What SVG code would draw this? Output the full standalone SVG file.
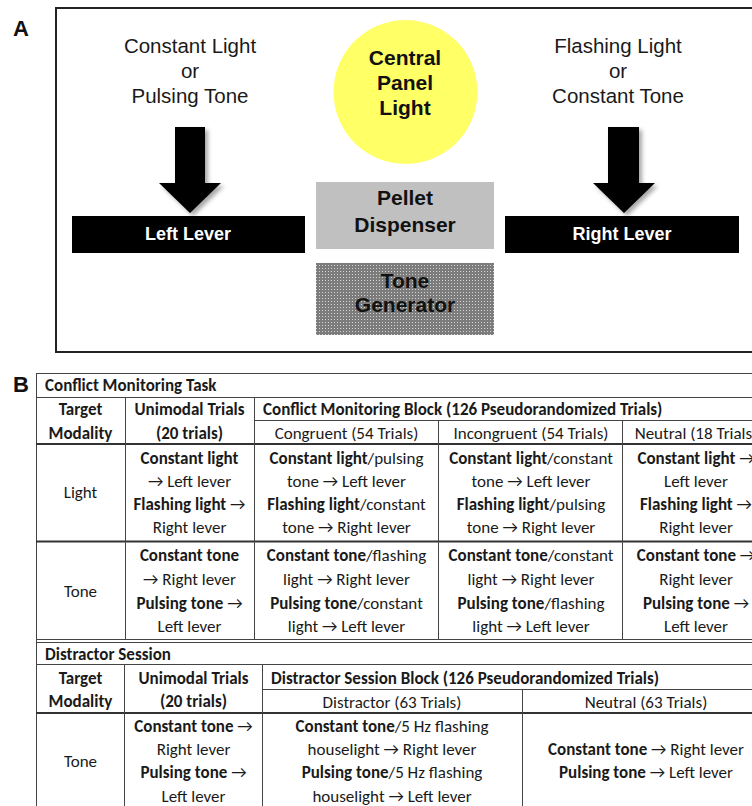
<svg xmlns="http://www.w3.org/2000/svg" width="752" height="806" viewBox="0 0 752 806">
<defs>
<pattern id="dots" width="3" height="3" patternUnits="userSpaceOnUse">
<rect width="3" height="3" fill="#7c7c7c"/>
<rect x="1" y="1" width="1" height="1" fill="#d4d4d4"/>
</pattern>
<filter id="shadow" x="-20%" y="-20%" width="150%" height="150%">
<feDropShadow dx="3" dy="3" stdDeviation="2" flood-color="#000" flood-opacity="0.35"/>
</filter>
</defs>
<style>
.lbl{font-family:"Liberation Sans",Arial,sans-serif;font-weight:bold;fill:#111}
.ar{font-family:"Liberation Sans",Arial,sans-serif;font-size:20.5px;fill:#1a1a1a;text-anchor:middle}
.bd{font-family:"Liberation Sans",Arial,sans-serif;font-size:21px;font-weight:bold;fill:#111;text-anchor:middle}
.lev{font-family:"Liberation Sans",Arial,sans-serif;font-size:18px;font-weight:bold;fill:#fff;text-anchor:middle}
.t{font-family:Carlito,Calibri,Lato,"Liberation Sans",sans-serif;font-size:17px;fill:#1a1a1a;text-anchor:middle}
.tl{font-family:Carlito,Calibri,Lato,"Liberation Sans",sans-serif;font-size:17px;fill:#1a1a1a;font-weight:bold}
.b{font-weight:bold}
.ln{stroke:#444;stroke-width:1;fill:none}
.thk{stroke:#333;stroke-width:2;fill:none}
</style>
<rect width="752" height="806" fill="#fff"/>

<!-- Panel A -->
<text class="lbl" x="13" y="36" font-size="22">A</text>
<rect id="frameA" x="56" y="8" width="730" height="344" fill="none" stroke="#222" stroke-width="2"/>

<g id="leftCue">
<text class="ar" x="190" y="53">Constant Light</text>
<text class="ar" x="190" y="78">or</text>
<text class="ar" x="190" y="103">Pulsing Tone</text>
</g>
<g id="rightCue">
<text class="ar" x="618" y="53">Flashing Light</text>
<text class="ar" x="618" y="78">or</text>
<text class="ar" x="618" y="103">Constant Tone</text>
</g>
<g id="centralLight">
<circle cx="405.5" cy="92" r="72" fill="#ffff66"/>
<text class="bd" x="405" y="65">Central</text>
<text class="bd" x="405" y="90">Panel</text>
<text class="bd" x="405" y="115">Light</text>
</g>
<g id="pelletDispenser">
<rect x="316" y="182" width="178" height="67" fill="#c0c0c0"/>
<text class="bd" x="405" y="205">Pellet</text>
<text class="bd" x="405" y="232">Dispenser</text>
</g>
<g id="toneGenerator">
<rect x="316" y="263" width="178" height="72" fill="url(#dots)"/>
<text class="bd" x="405" y="288">Tone</text>
<text class="bd" x="405" y="312">Generator</text>
</g>
<g id="leftLever">
<rect x="72" y="216" width="233" height="37" fill="#000"/>
<text class="lev" x="188" y="240">Left Lever</text>
</g>
<g id="rightLever">
<rect x="505" y="216" width="234" height="37" fill="#000"/>
<text class="lev" x="622" y="240">Right Lever</text>
</g>
<g id="connectors" filter="url(#shadow)">
<polygon points="175,127 205,127 205,183 221,183 190,213 159,183 175,183" fill="#000"/>
<polygon points="608,127 639,127 639,183 655,183 624,213 593,183 608,183" fill="#000"/>
</g>

<!-- Panel B -->
<text class="lbl" x="13" y="392" font-size="22">B</text>

<g id="tableLines">
<line class="ln" x1="36" y1="373.5" x2="770" y2="373.5"/>
<line class="ln" x1="36.5" y1="373" x2="36.5" y2="806"/>
<line class="ln" x1="36" y1="397.5" x2="770" y2="397.5"/>
<line class="ln" x1="254" y1="420.5" x2="770" y2="420.5"/>
<line class="thk" x1="36" y1="444" x2="770" y2="444"/>
<line class="thk" x1="36" y1="541.5" x2="770" y2="541.5"/>
<line class="ln" x1="36" y1="639.5" x2="770" y2="639.5"/>
<line class="ln" x1="36" y1="642.5" x2="770" y2="642.5"/>
<line class="ln" x1="125.5" y1="397" x2="125.5" y2="639"/>
<line class="ln" x1="254.5" y1="397" x2="254.5" y2="639"/>
<line class="ln" x1="438.5" y1="420" x2="438.5" y2="639"/>
<line class="ln" x1="622.5" y1="420" x2="622.5" y2="639"/>
<line class="ln" x1="36" y1="664.5" x2="770" y2="664.5"/>
<line class="ln" x1="262" y1="689.5" x2="770" y2="689.5"/>
<line class="thk" x1="36" y1="713" x2="770" y2="713"/>
<line class="ln" x1="124.5" y1="664" x2="124.5" y2="806"/>
<line class="ln" x1="262.5" y1="664" x2="262.5" y2="806"/>
<line class="ln" x1="522.5" y1="689" x2="522.5" y2="806"/>
</g>

<g id="conflictHeader">
<text class="tl" x="45" y="391">Conflict Monitoring Task</text>
<text class="t b" x="80.5" y="415">Target</text>
<text class="t b" x="80.5" y="439">Modality</text>
<text class="t b" x="189.5" y="415">Unimodal Trials</text>
<text class="t b" x="189.5" y="439">(20 trials)</text>
<text class="tl" x="263" y="415">Conflict Monitoring Block (126 Pseudorandomized Trials)</text>
<text class="t" x="346.5" y="439">Congruent (54 Trials)</text>
<text class="t" x="531" y="439">Incongruent (54 Trials)</text>
<text class="t" x="696" y="439">Neutral (18 Trials)</text>
</g>

<g id="conflictLight">
<text class="t" x="80.5" y="498">Light</text>
<text class="t" x="189.5" y="464"><tspan class="b">Constant light</tspan></text>
<text class="t" x="189.5" y="487">→ Left lever</text>
<text class="t" x="189.5" y="510"><tspan class="b">Flashing light</tspan> →</text>
<text class="t" x="189.5" y="533">Right lever</text>
<text class="t" x="346.5" y="464"><tspan class="b">Constant light</tspan>/pulsing</text>
<text class="t" x="346.5" y="487">tone → Left lever</text>
<text class="t" x="346.5" y="510"><tspan class="b">Flashing light</tspan>/constant</text>
<text class="t" x="346.5" y="533">tone → Right lever</text>
<text class="t" x="531" y="464"><tspan class="b">Constant light</tspan>/constant</text>
<text class="t" x="531" y="487">tone → Left lever</text>
<text class="t" x="531" y="510"><tspan class="b">Flashing light</tspan>/pulsing</text>
<text class="t" x="531" y="533">tone → Right lever</text>
<text class="t" x="696" y="464"><tspan class="b">Constant light</tspan> →</text>
<text class="t" x="696" y="487">Left lever</text>
<text class="t" x="696" y="510"><tspan class="b">Flashing light</tspan> →</text>
<text class="t" x="696" y="533">Right lever</text>
</g>

<g id="conflictTone">
<text class="t" x="80.5" y="597">Tone</text>
<text class="t" x="189.5" y="561"><tspan class="b">Constant tone</tspan></text>
<text class="t" x="189.5" y="585">→ Right lever</text>
<text class="t" x="189.5" y="609"><tspan class="b">Pulsing tone</tspan>  →</text>
<text class="t" x="189.5" y="632">Left lever</text>
<text class="t" x="346.5" y="561"><tspan class="b">Constant tone</tspan>/flashing</text>
<text class="t" x="346.5" y="585">light → Right lever</text>
<text class="t" x="346.5" y="609"><tspan class="b">Pulsing tone</tspan>/constant</text>
<text class="t" x="346.5" y="632">light → Left lever</text>
<text class="t" x="531" y="561"><tspan class="b">Constant tone</tspan>/constant</text>
<text class="t" x="531" y="585">light → Right lever</text>
<text class="t" x="531" y="609"><tspan class="b">Pulsing tone</tspan>/flashing</text>
<text class="t" x="531" y="632">light → Left lever</text>
<text class="t" x="696" y="561"><tspan class="b">Constant tone</tspan> →</text>
<text class="t" x="696" y="585">Right lever</text>
<text class="t" x="696" y="609"><tspan class="b">Pulsing tone</tspan>  →</text>
<text class="t" x="696" y="632">Left lever</text>
</g>

<g id="distractorHeader">
<text class="tl" x="45" y="660">Distractor Session</text>
<text class="t b" x="80.5" y="684">Target</text>
<text class="t b" x="80.5" y="707">Modality</text>
<text class="t b" x="193.5" y="684">Unimodal Trials</text>
<text class="t b" x="193.5" y="707">(20 trials)</text>
<text class="tl" x="271" y="684">Distractor Session Block (126 Pseudorandomized Trials)</text>
<text class="t" x="392" y="708">Distractor (63 Trials)</text>
<text class="t" x="646" y="708">Neutral (63 Trials)</text>
</g>

<g id="distractorTone">
<text class="t" x="80.5" y="767">Tone</text>
<text class="t" x="193.5" y="732"><tspan class="b">Constant tone</tspan> →</text>
<text class="t" x="193.5" y="755">Right lever</text>
<text class="t" x="193.5" y="778"><tspan class="b">Pulsing tone</tspan>  →</text>
<text class="t" x="193.5" y="802">Left lever</text>
<text class="t" x="392" y="732"><tspan class="b">Constant tone</tspan>/5 Hz flashing</text>
<text class="t" x="392" y="755">houselight → Right lever</text>
<text class="t" x="392" y="778"><tspan class="b">Pulsing tone</tspan>/5 Hz flashing</text>
<text class="t" x="392" y="802">houselight → Left lever</text>
<text class="t" x="646" y="755"><tspan class="b">Constant tone</tspan> → Right lever</text>
<text class="t" x="646" y="778"><tspan class="b">Pulsing tone</tspan>  → Left lever</text>
</g>
</svg>
